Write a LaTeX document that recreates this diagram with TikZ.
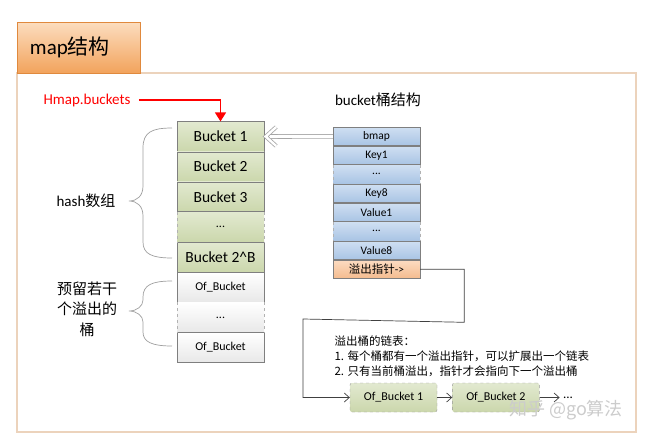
\documentclass[tikz,border=0pt]{standalone}
\usepackage{fontspec}
\setmainfont{Carlito}
\newfontfamily\cjk{Noto Sans CJK SC}
\usetikzlibrary{positioning,arrows.meta}
\definecolor{hdtop}{HTML}{FCDDBF}
\definecolor{hdbot}{HTML}{F2A35C}
\definecolor{hdline}{HTML}{E0893D}
\definecolor{frameline}{HTML}{ECD3BC}
\definecolor{grtop}{HTML}{E2E9D0}
\definecolor{grbot}{HTML}{CBD7AC}
\definecolor{bltop}{HTML}{CFDFF2}
\definecolor{blbot}{HTML}{A9C4E4}
\definecolor{ortop}{HTML}{FCDCC2}
\definecolor{orbot}{HTML}{F4BB8E}
\definecolor{cellline}{HTML}{7F7F7F}
\tikzset{
  header/.style={draw=hdline, top color=hdtop, bottom color=hdbot, minimum width=123pt,
    minimum height=51pt, text width=97pt, inner xsep=13pt, align=left,
    font=\fontsize{21}{24}\selectfont},
  cell/.style={draw=cellline, minimum width=87pt, minimum height=29.75pt, inner sep=0pt,
    top color=grtop, bottom color=grbot, font=\fontsize{15.5}{18}\selectfont},
  ofcell/.style={cell, top color=white, bottom color=gray!18, font=\fontsize{12}{14}\selectfont},
  field/.style={draw=cellline, minimum width=87pt, minimum height=18.6pt, inner sep=0pt,
    top color=bltop, bottom color=blbot, font=\fontsize{11.5}{13}\selectfont},
  gap/.style={draw=none},
  gapline/.style={draw=gray!60, dashed},
  chainbox/.style={draw=gray!80, dashed, rounded corners=2pt, minimum width=87pt,
    minimum height=29pt, inner sep=0pt, top color=grtop, bottom color=grbot,
    font=\fontsize{12}{14}\selectfont},
  label/.style={font=\fontsize{15}{18}\selectfont},
  hollow/.style={draw=gray!70, line width=0.8pt, double=white},
  link/.style={draw=black!75, line width=0.7pt, -{Straight Barb[length=5pt,width=9pt]}}
}
\begin{document}
\begin{tikzpicture}[x=1pt,y=-1pt]
  \useasboundingbox (0,0) rectangle (654,440);
  % frame and header
  \draw[frameline, line width=1.5pt, fill=white] (17,73) rectangle (636,432);
  \node[header] (title) at (78.5,47.5) {map{\cjk 结构}};

  % hash array
  \node[cell] (b1) at (220.5,136.5) {Bucket 1};
  \node[cell, below=0pt of b1] (b2) {Bucket 2};
  \node[cell, below=0pt of b2] (b3) {Bucket 3};
  \node[cell, gap, font=\fontsize{12}{14}\selectfont, below=0pt of b3] (bdots) {...};
  \node[cell, below=0pt of bdots] (bB) {Bucket 2\textasciicircum B};
  \node[ofcell, below=0pt of bB] (of1) {Of\_Bucket};
  \node[ofcell, gap, below=0pt of of1] (ofdots) {...};
  \node[ofcell, below=0pt of ofdots] (of2) {Of\_Bucket};

  % bucket struct
  \node[field] (bmap) at (376.5,136.3) {bmap};
  \node[field, below=0pt of bmap] (key1) {Key1};
  \node[field, gap, below=0pt of key1] (kdots) {...};
  \node[field, below=0pt of kdots] (key8) {Key8};
  \node[field, below=0pt of key8] (val1) {Value1};
  \node[field, gap, below=0pt of val1] (vdots) {...};
  \node[field, below=0pt of vdots] (val8) {Value8};
  \node[field, top color=ortop, bottom color=orbot, below=0pt of val8] (ovf) {{\cjk 溢出指针}->};

  \foreach \g in {bdots,ofdots,kdots,vdots}
    \draw[gapline] (\g.north west) -- (\g.south west) (\g.north east) -- (\g.south east);

  % labels
  \node[label, text=red] (hmap) at (87,100) {Hmap.buckets};
  \node[label] (hash) at (86,201) {hash{\cjk 数组}};
  \node[align=center, font=\fontsize{15}{20.5}\selectfont\cjk] (spare) at (87,309) {预留若干\\个溢出的\\桶};
  \node[label] (btitle) at (378,100) {bucket{\cjk 桶结构}};
  \node[anchor=north west, align=left, font=\fontsize{11.5}{15}\selectfont\cjk] (note) at (331,332)
    {溢出桶的链表：\\1. 每个桶都有一个溢出指针，可以扩展出一个链表\\2. 只有当前桶溢出，指针才会指向下一个溢出桶};

  % overflow chain
  \node[chainbox] (obk1) at (393.5,397.5) {Of\_Bucket 1};
  \node[chainbox, right=15pt of obk1] (obk2) {Of\_Bucket 2};
  \node[font=\fontsize{13}{15}\selectfont, right=20pt of obk2] (more) {...};
  \node[text=gray!40, font=\fontsize{18}{20}\selectfont\cjk] (mark) at (566,410) {知乎 @go算法};

  % braces
  \draw[gray!75, line width=0.7pt] (172,128) .. controls (152,128) and (143,132) .. (143,148)
    -- (143,186) .. controls (143,196) and (137,201) .. (129,201)
    .. controls (137,201) and (143,206) .. (143,216) -- (143,242)
    .. controls (143,254) and (152,258) .. (172,258);
  \draw[gray!75, line width=0.7pt] (172,281) .. controls (152,281) and (143,285) .. (143,297)
    -- (143,300) .. controls (143,306) and (137,311) .. (129,311)
    .. controls (137,311) and (143,316) .. (143,322) -- (143,332)
    .. controls (143,342) and (152,346) .. (172,346);

  % connectors
  \draw[red, line width=1.3pt, shorten <=5pt, -{Triangle[length=9pt,width=11pt]}] (hmap.east) -| (b1.north);
  \draw[hollow, double distance=2.4pt, miter limit=20]
    ([shift={(12,-9.5)}]b1.east) -- ([xshift=1.5pt]b1.east) -- ([shift={(12,9.5)}]b1.east);
  \draw[hollow, double distance=3pt, shorten >=-6pt] (bmap.west) -- ([xshift=12pt]b1.east);
  \draw[link] (ovf.east) -- ++(44,0) -- ++(0,53) -- (303,319) |- (obk1.west);
  \draw[link] (obk1) -- (obk2);
  \draw[link] (obk2) -- (more);
\end{tikzpicture}
\end{document}
